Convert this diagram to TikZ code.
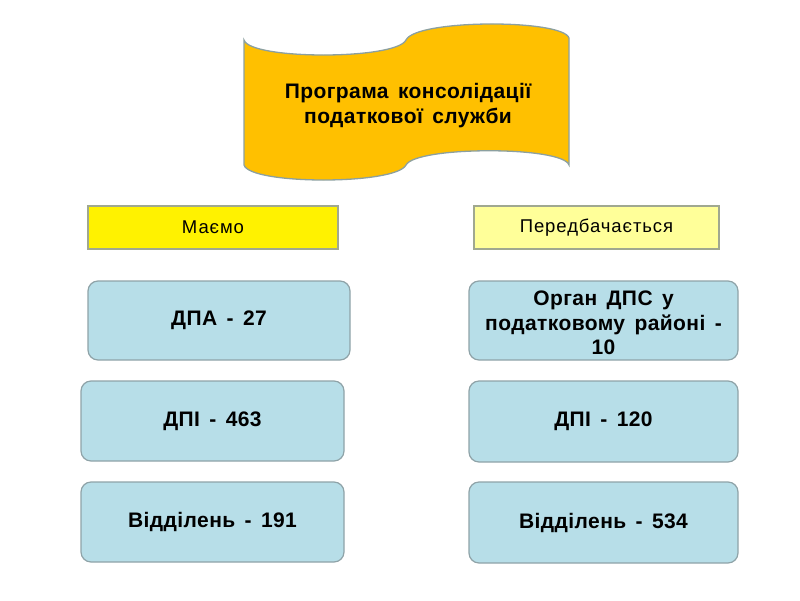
\documentclass[tikz,border=0pt]{standalone}
\usepackage{fontspec}
\setmainfont{Liberation Sans}
\newfontfamily\wfont{Liberation Sans}[LetterSpace=2,WordSpace=1.5]
\newfontfamily\hfont{Liberation Sans}[LetterSpace=5]
\begin{document}
\begin{tikzpicture}[x=1pt,y=-1pt,
  bluebox/.style={draw=boxline,line width=1.2pt,fill=boxfill,rounded corners=10pt,align=center,font=\wfont\fontsize{21}{24.5}\selectfont\bfseries},
  headbox/.style={draw=headline,line width=1.2pt,align=center,font=\hfont\fontsize{18.5}{20}\selectfont}]
\definecolor{boxfill}{HTML}{B7DEE8}
\definecolor{boxline}{HTML}{8FA3A8}
\definecolor{headline}{HTML}{A0A890}
\definecolor{bannerfill}{HTML}{FFC000}
\definecolor{bannerline}{HTML}{8CA0A0}
\definecolor{lightyellow}{HTML}{FFFF99}
\useasboundingbox (0,0) rectangle (800,600);
% banner
\draw[draw=bannerline,line width=1.3pt,fill=bannerfill]
  (244,40) .. controls (250,60) and (396,60) .. (406,40)
  .. controls (416,19) and (563,19) .. (569,38)
  -- (569,165) .. controls (563,146) and (416,146) .. (406,165)
  .. controls (396,185) and (250,185) .. (244,165) -- cycle;
\node[align=center,font=\wfont\fontsize{21}{25}\selectfont\bfseries] (title) at (408,106) {Програма консолідації\\податкової служби};
% headers
\node[headbox,fill=yellow,minimum width=250pt,minimum height=43pt] (have) at (213,227.5) {Маємо};
\node[headbox,fill=lightyellow,minimum width=245pt,minimum height=43pt] (plan) at (596.5,227.5) {Передбачається};
% left boxes
\node[bluebox,minimum width=262pt,minimum height=79pt] (l1) at (219,320.5) {ДПА - 27};
\node[bluebox,minimum width=263pt,minimum height=80pt] (l2) at (212.5,421) {ДПІ - 463};
\node[bluebox,minimum width=263pt,minimum height=80pt] (l3) at (212.5,522) {Відділень - 191};
% right boxes
\node[bluebox,minimum width=269pt,minimum height=79pt] (r1) at (603.5,320.5) {};
\node[align=center,font=\wfont\fontsize{21}{24.5}\selectfont\bfseries] (r1t) at (603.5,323) {Орган ДПС у\\податковому районі -\\10};
\node[bluebox,minimum width=269pt,minimum height=81pt] (r2) at (603.5,421.5) {ДПІ - 120};
\node[bluebox,minimum width=269pt,minimum height=81pt] (r3) at (603.5,522.5) {Відділень - 534};
\end{tikzpicture}
\end{document}
